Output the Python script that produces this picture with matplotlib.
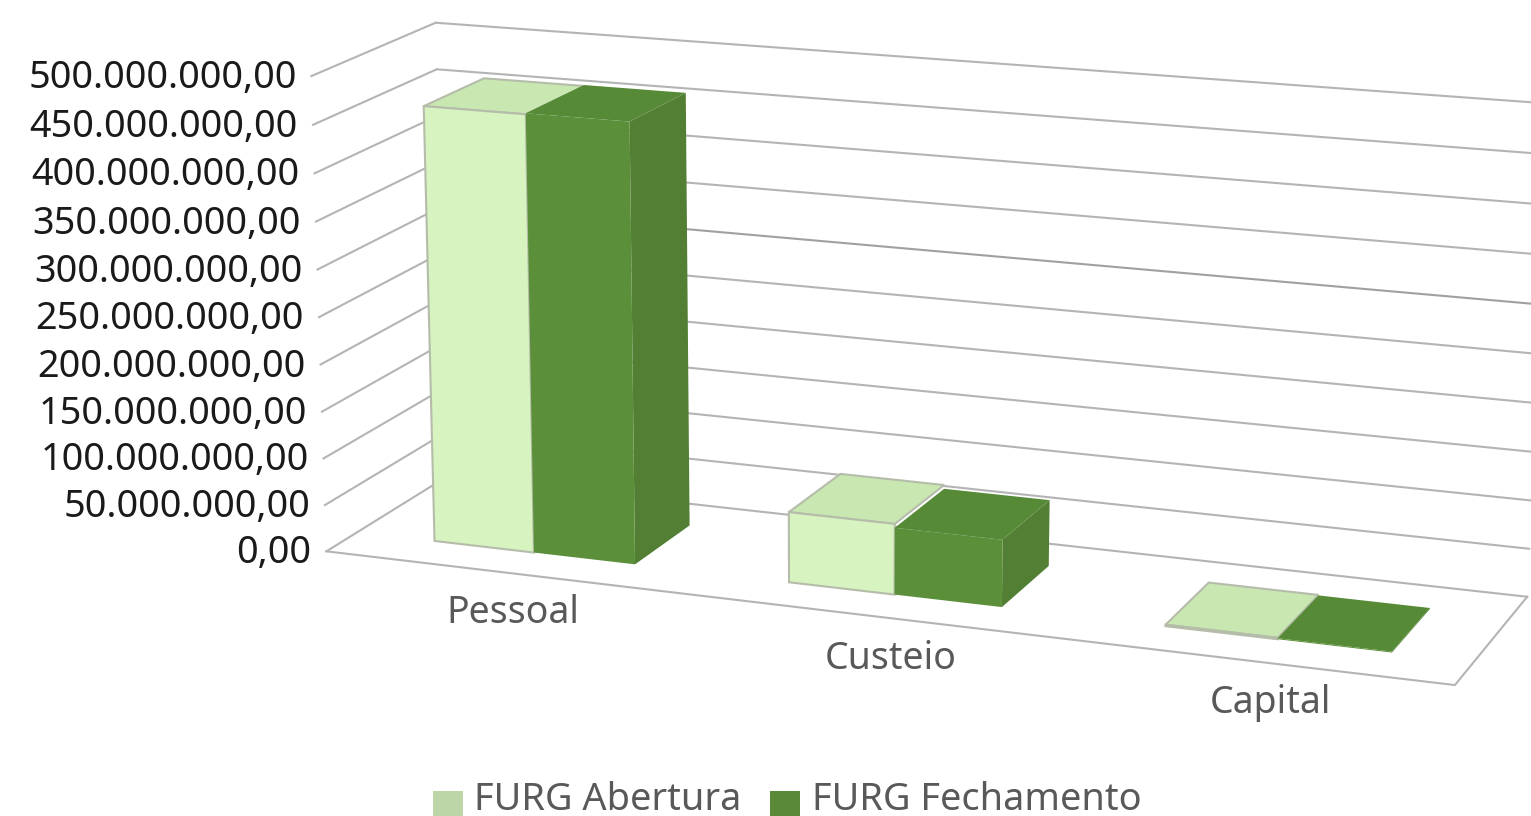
import numpy as np
import matplotlib
matplotlib.use("Agg")
import matplotlib.pyplot as plt
from matplotlib.patches import Polygon, Patch, Rectangle
from matplotlib.legend_handler import HandlerPatch

categories = ["Pessoal", "Custeio", "Capital"]
abertura = [461e6, 74e6, 1.5e6]
fechamento = [462e6, 70e6, 1.0e6]
series_names = ["FURG Abertura", "FURG Fechamento"]
tick_values = [0, 50e6, 100e6, 150e6, 200e6, 250e6, 300e6, 350e6, 400e6, 450e6, 500e6]
tick_labels = ["0,00", "50.000.000,00", "100.000.000,00", "150.000.000,00", "200.000.000,00",
               "250.000.000,00", "300.000.000,00", "350.000.000,00", "400.000.000,00",
               "450.000.000,00", "500.000.000,00"]

VMAX = 500e6
FONT = "Noto Sans"
GRID = "#b4b4b4"
GRID_DARK = "#a0a0a0"
LIGHT_FRONT, LIGHT_TOP = "#d6f3c0", "#c8e7b1"
DARK_FRONT, DARK_TOP, DARK_SIDE = "#5c8f3a", "#568a36", "#527f33"
LABEL_DX = [12, 26, 19]
LABEL_DY = [41, 44, 42]

# Camera calibration: box corners (u, d, v/VMAX) -> figure pixels
BOX = [((0, 0, 0), (326, 552)), ((1, 0, 0), (1455, 685)), ((1, 1, 0), (1527, 597)), ((0, 1, 0), (447, 476)),
       ((0, 0, 1), (312, 77)), ((1, 0, 1), (1475, 165)), ((1, 1, 1), (1549, 105)), ((0, 1, 1), (435, 22))]


def camera(pairs):
    A, b = [], []
    for (u, d, t), (x, y) in pairs:
        A.append([u, d, t, 1, 0, 0, 0, 0, -u * x, -d * x, -t * x]); b.append(x)
        A.append([0, 0, 0, 0, u, d, t, 1, -u * y, -d * y, -t * y]); b.append(y)
    sol = np.linalg.lstsq(np.array(A, float), np.array(b, float), rcond=None)[0]
    return np.append(sol, 1).reshape(3, 4)


CAM = camera(BOX)


def project(u, d, v):
    p = CAM @ np.array([u, d, v / VMAX, 1.0])
    return (p[0] / p[2], p[1] / p[2])


fig = plt.figure(figsize=(15.31, 8.16), dpi=100, facecolor="white")
ax = fig.add_axes([0, 0, 1, 1])
ax.set_xlim(0, 1531)
ax.set_ylim(816, 0)
ax.axis("off")

for v, lab in zip(tick_values, tick_labels):
    side_wall = [project(0, 0, v), project(0, 1, v)]
    back_wall = [project(0, 1, v), project(1, 1, v)]
    ax.plot(*zip(*side_wall), color=GRID, lw=1.5, zorder=1, solid_capstyle="projecting")
    ax.plot(*zip(*back_wall), color=GRID_DARK if v == 300e6 else GRID, lw=1.5, zorder=1,
            solid_capstyle="projecting")
    fx, fy = project(0, 0, v)
    ax.text(fx - 15, fy + 2, lab, ha="right", va="center", fontsize=27.2, family=FONT,
            color="#1a1a1a", zorder=5)

pts = [project(0, 0, 0), project(1, 0, 0), project(1, 1, 0)]
ax.plot(*zip(*pts), color=GRID, lw=1.5, zorder=1, solid_joinstyle="miter")

D0, D1 = 0.25, 0.75
GAP = 0.075
BW = 0.0955


def bar(u0, u1, val, front, top, side, edge, z):
    def q(*corners):
        return [project(*c) for c in corners]
    lw = 1.5 if edge != "none" else 0
    if side is not None:
        ax.add_patch(Polygon(q((u1, D0, 0), (u1, D1, 0), (u1, D1, val), (u1, D0, val)),
                             fc=side, ec="none", zorder=z))
    ax.add_patch(Polygon(q((u0, D0, val), (u1, D0, val), (u1, D1, val), (u0, D1, val)),
                         fc=top, ec=edge, lw=lw, zorder=z))
    ax.add_patch(Polygon(q((u0, D0, 0), (u1, D0, 0), (u1, D0, val), (u0, D0, val)),
                         fc=front, ec=edge, lw=lw, zorder=z))


for i, (cat, a, b) in enumerate(zip(categories, abertura, fechamento)):
    left = i / 3 + GAP
    bar(left, left + BW, a, LIGHT_FRONT, LIGHT_TOP, None, "#b5bdaa", 2 + i)
    bar(left + BW, left + 2 * BW, b, DARK_FRONT, DARK_TOP, DARK_SIDE, "none", 2.5 + i)
    x, y = project((i + 0.5) / 3, 0, 0)
    ax.text(x + LABEL_DX[i], y + LABEL_DY[i], cat, ha="center", va="center", fontsize=27,
            family=FONT, color="#595959", zorder=6)


def low_swatch(legend, orig_handle, xdescent, ydescent, width, height, fontsize):
    return Rectangle((-xdescent, -ydescent - 5), width, height)


handles = [Patch(fc="#bcd6a8", ec="none"), Patch(fc="#5a8a38", ec="none")]
fig.legend(handles, series_names, loc="lower center", bbox_to_anchor=(0.514, -0.004), ncols=2,
           frameon=False, prop={"family": FONT, "size": 27.3}, labelcolor="#595959",
           handlelength=0.8, handleheight=0.66, handletextpad=0.3, columnspacing=0.75,
           borderpad=0, borderaxespad=0,
           handler_map={Patch: HandlerPatch(patch_func=low_swatch)})

fig.savefig("out.png", dpi=100, facecolor="white")
